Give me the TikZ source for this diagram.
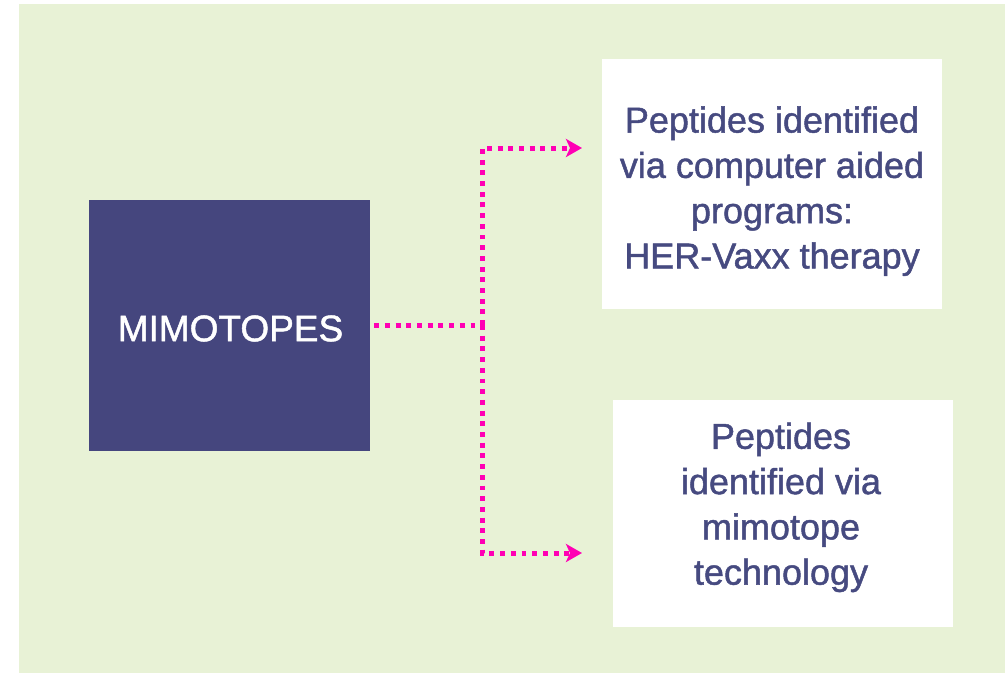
\documentclass[tikz,border=0pt]{standalone}
\usepackage{fontspec}
\setmainfont{Liberation Sans}
\newfontfamily\boldish[FakeBold=1.3]{Liberation Sans}
\usetikzlibrary{arrows.meta}
\definecolor{bggreen}{RGB}{232,242,214}
\definecolor{navy}{RGB}{69,70,126}
\definecolor{txtnavy}{RGB}{70,74,128}
\definecolor{hotpink}{RGB}{255,0,180}
\tikzset{
  darkbox/.style={fill=navy, draw=none, inner sep=0pt, minimum width=281pt, minimum height=251pt},
  whitebox/.style={fill=white, draw=none, inner sep=0pt, minimum width=340pt},
  boxtext/.style={text=txtnavy, align=center, inner sep=0pt, font=\boldish\fontsize{36pt}{45.3pt}\selectfont},
  dotline/.style={draw=hotpink, line width=5pt, dash pattern=on 4.9pt off 5.8pt},
  pinktip/.style={-{Stealth[length=16pt,width=18pt,inset=4pt,fill=hotpink]}}
}
\begin{document}
\begin{tikzpicture}[x=1pt,y=-1pt]
\useasboundingbox (0,0) rectangle (1005,673);
\fill[bggreen] (19,4) rectangle (1005,673);
\node[darkbox] (mim) at (229.5,325.5) {};
\node[text=white, inner sep=0pt, font=\boldish\fontsize{37pt}{44pt}\selectfont] (mimtext) at (230.5,328.5) {MIMOTOPES};
\node[whitebox, minimum height=250pt] (top) at (772,184) {};
\node[boxtext] (toptext) at (772,191.2) {Peptides identified\\via computer aided\\programs:\\HER-Vaxx therapy};
\node[whitebox, minimum height=227pt] (bot) at (783,513.5) {};
\node[boxtext] (bottext) at (781,507.4) {Peptides\\identified via\\mimotope\\technology};
\coordinate (start) at ([xshift=4pt]mim.east);
\coordinate (j) at (482,325);
\coordinate (t) at (582,148);
\coordinate (b) at (582,553);
\draw[dotline] (start |- j) -- (j);
\draw[dotline, pinktip] (j) |- (t);
\draw[dotline, pinktip] (j) |- (b);
\end{tikzpicture}
\end{document}
